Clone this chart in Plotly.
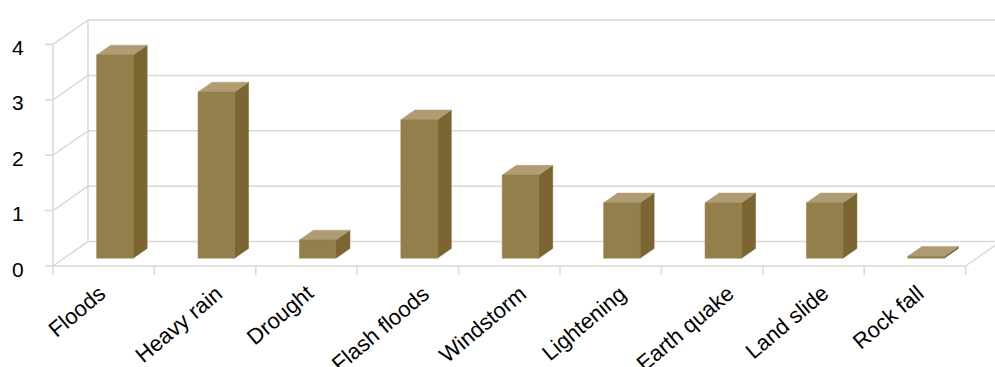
import plotly.graph_objects as go

categories = ["Floods", "Heavy rain", "Drought", "Flash floods", "Windstorm",
              "Lightening", "Earth quake", "Land slide", "Rock fall"]
values = [3.67, 3.0, 0.33, 2.5, 1.5, 1.0, 1.0, 1.0, 0.0]
y_ticks = [0, 1, 2, 3, 4]

# pseudo-3D geometry (in data units)
DX, DY = 0.345, 0.44        # depth vector of the wall
F0, FD = 0.32, 0.40         # bar front depth fraction and bar depth fraction
W = 0.36                    # bar front width
MIN_H = 0.035               # visual thickness for zero bars
GRID = "#d9d9d9"
FRONT = "#937f4b"
SIDE = "#7b6531"
TOP = "#b09c73"
FONT = "Liberation Sans, Arial, sans-serif"

n = len(categories)
x_left, x_right = -0.5, n - 0.5
XMIN, XMAX = -0.5 - 53 / 101.4, -0.5 + (995 - 53) / 101.4
YMIN, YMAX = -101 / 55.4, 266 / 55.4

fig = go.Figure()

# --- walls / grid ---
gx, gy = [], []
def seg(x0, y0, x1, y1):
    gx.extend([x0, x1, None]); gy.extend([y0, y1, None])

for v in y_ticks:
    seg(x_left + DX, v + DY, XMAX + 1, v + DY)       # back wall lines
    seg(x_left, v, x_left + DX, v + DY)              # side wall diagonals
    seg(x_left - 8 / 101.4, v, x_left, v)            # y tick marks
seg(x_left + DX, DY, x_left + DX, y_ticks[-1] + DY)  # back-left vertical
seg(x_left, 0, x_left, y_ticks[-1])                  # front-left vertical
seg(x_left, 0, x_right, 0)                           # floor front edge
seg(x_right, 0, x_right + DX, DY)                    # floor right edge
for k in range(n + 1):                               # category tick marks
    seg(x_left + k, 0, x_left + k, -9 / 55.4)

fig.add_trace(go.Scatter(x=gx, y=gy, mode="lines",
                         line=dict(color=GRID, width=1.5),
                         hoverinfo="skip", showlegend=False))

# --- bars (front, side, top faces) ---
base = F0 * DY
bdx, bdy = FD * DX, FD * DY
xc = [i + F0 * DX for i in range(n)]
hs = [max(v, MIN_H) for v in values]

fx, fy, sx, sy, tx, ty = [], [], [], [], [], []
for c, h in zip(xc, hs):
    r = c + W / 2
    l = c - W / 2
    top = base + h
    fx += [l, r, r, l, l, None]
    fy += [base, base, top, top, base, None]
    sx += [r, r + bdx, r + bdx, r, r, None]
    sy += [base, base + bdy, top + bdy, top, base, None]
    tx += [l, r, r + bdx, l + bdx, l, None]
    ty += [top, top, top + bdy, top + bdy, top, None]

for px, py, col in [(sx, sy, SIDE), (tx, ty, TOP), (fx, fy, FRONT)]:
    fig.add_trace(go.Scatter(x=px, y=py, mode="lines", fill="toself",
                             fillcolor=col, line=dict(width=0.5, color=col),
                             hoverinfo="skip", showlegend=False))

# --- labels ---
annotations = []
for v in y_ticks:
    annotations.append(dict(x=x_left, y=v, xref="x", yref="y", text=str(v),
                            showarrow=False, xanchor="right", yanchor="middle",
                            xshift=-27, yshift=-3,
                            font=dict(family=FONT, size=21, color="#000")))
for i, cat in enumerate(categories):
    annotations.append(dict(x=i, y=0, xref="x", yref="y", text=cat,
                            showarrow=False, xanchor="center", yanchor="top",
                            textangle=-40, xshift=-27, yshift=-12,
                            font=dict(family=FONT, size=22, color="#000")))

fig.update_layout(
    width=995, height=367,
    margin=dict(l=0, r=0, t=0, b=0),
    paper_bgcolor="white", plot_bgcolor="white",
    xaxis=dict(range=[XMIN, XMAX], visible=False, fixedrange=True),
    yaxis=dict(range=[YMIN, YMAX], visible=False, fixedrange=True),
    annotations=annotations,
)

fig.write_html("out.html")
